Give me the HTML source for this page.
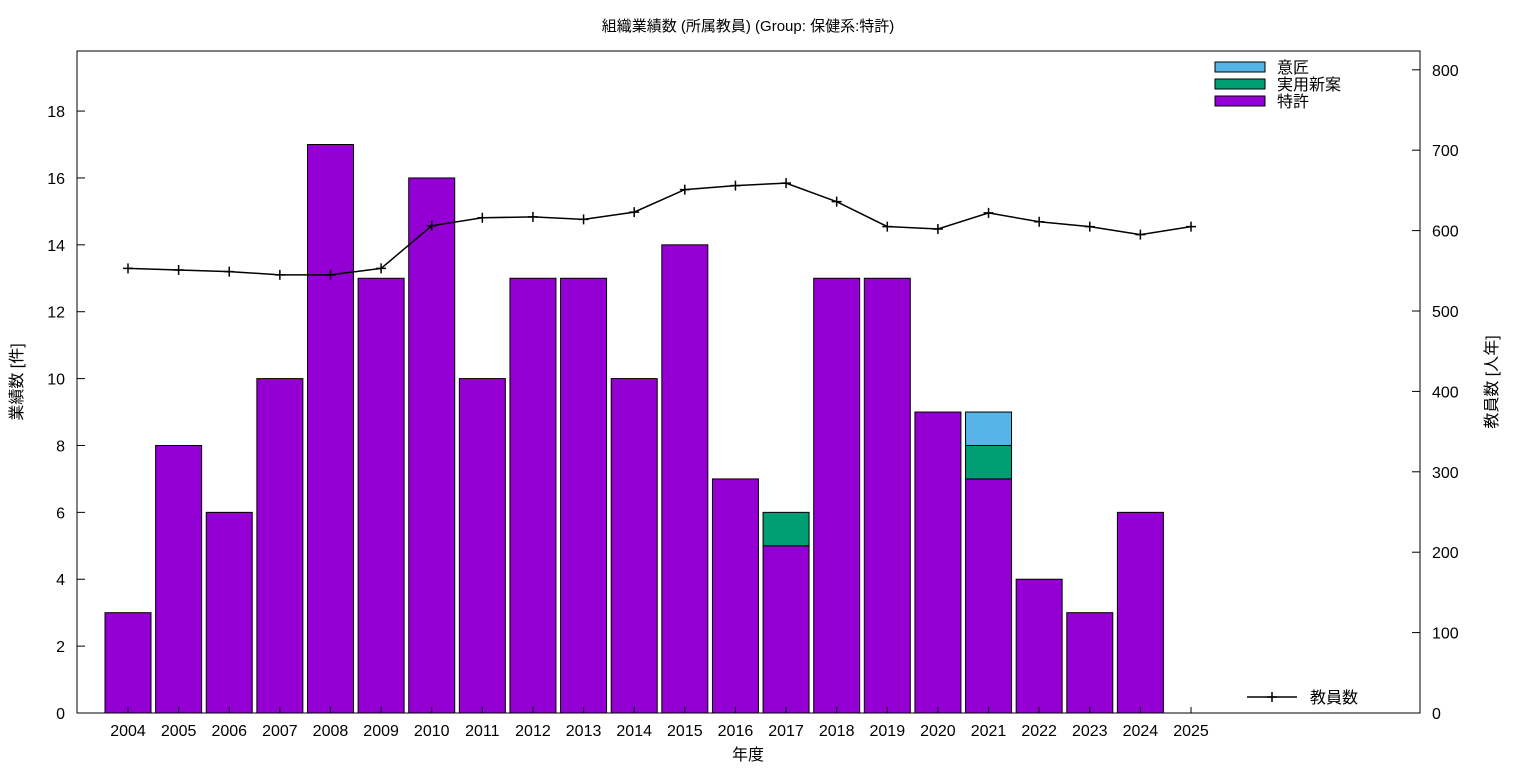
<!DOCTYPE html>
<html><head><meta charset="utf-8"><style>
body{margin:0;background:#fff}
svg text{font-family:"Liberation Sans","Noto Sans CJK JP",sans-serif;fill:#000}
</style></head><body>
<svg id="chart" width="1536" height="768" xmlns="http://www.w3.org/2000/svg"></svg>
<script>
const years=["2004","2005","2006","2007","2008","2009","2010","2011","2012","2013","2014","2015","2016","2017","2018","2019","2020","2021","2022","2023","2024","2025"];
const patents=[3,8,6,10,17,13,16,10,13,13,10,14,7,5,13,13,9,7,4,3,6,0];
const utility=[0,0,0,0,0,0,0,0,0,0,0,0,0,1,0,0,0,1,0,0,0,0];
const designs=[0,0,0,0,0,0,0,0,0,0,0,0,0,0,0,0,0,1,0,0,0,0];
const staff=[553,551,549,545,545,553,606,616,617,614,623,651,656,659,636,605,602,622,611,605,595,605];
const leftTicks=[0,2,4,6,8,10,12,14,16,18];
const rightTicks=[0,100,200,300,400,500,600,700,800];
const NS="http://www.w3.org/2000/svg";
const svg=document.getElementById('chart');
const L=77,R=1420,T=51,B=713;
const x=i=>128+i*50.62;
const yl=v=>B-v*33.44;
const yr=v=>B-v*0.804;
function el(tag,attrs,parent){const e=document.createElementNS(NS,tag);for(const k in attrs)e.setAttribute(k,attrs[k]);(parent||svg).appendChild(e);return e;}
function txt(s,attrs){const e=el('text',attrs);e.textContent=s;return e;}
// bars
const colors=["#9400d3","#009e73","#56b4e9"];
const series=[patents,utility,designs];
years.forEach((yv,i)=>{let base=0;series.forEach((s,k)=>{if(s[i]>0){const r=el('rect',{x:x(i)-23,y:yl(base+s[i]),width:46,height:yl(base)-yl(base+s[i]),fill:colors[k],stroke:'#000','stroke-width':1});

base+=s[i];}});});
// frame
const f=el('rect',{x:L,y:T,width:R-L,height:B-T,fill:'none',stroke:'#000','stroke-width':1});

leftTicks.forEach(v=>{el('line',{x1:L,x2:L+8,y1:yl(v),y2:yl(v),stroke:'#000'});const t=txt(v,{x:L-12,y:yl(v)+6,'text-anchor':'end','font-size':16});});
rightTicks.forEach(v=>{el('line',{x1:R-8,x2:R,y1:yr(v),y2:yr(v),stroke:'#000'});const t=txt(v,{x:R+12,y:yr(v)+6,'font-size':16});});
years.forEach((yv,i)=>{el('line',{x1:x(i),x2:x(i),y1:B,y2:B-6,stroke:'#000'});const t=txt(yv,{x:x(i),y:736,'text-anchor':'middle','font-size':16});});
// line
const pts=staff.map((v,i)=>x(i)+','+yr(v)).join(' ');
const pl=el('polyline',{points:pts,fill:'none',stroke:'#000','stroke-width':1.5});

staff.forEach((v,i)=>{el('path',{d:`M${x(i)-5},${yr(v)}h10M${x(i)},${yr(v)-5}v10`,stroke:'#000','stroke-width':1.5});});
// titles
let t=txt('組織業績数 (所属教員) (Group: 保健系:特許)',{x:748,y:31,'text-anchor':'middle','font-size':15});
t=txt('年度',{x:748,y:760,'text-anchor':'middle','font-size':16});
t=txt('業績数 [件]',{x:0,y:0,'text-anchor':'middle','font-size':16,transform:'translate(22,382) rotate(-90)'});
t=txt('教員数 [人年]',{x:0,y:0,'text-anchor':'middle','font-size':16,transform:'translate(1497,382) rotate(-90)'});
// legend
const lg=[["意匠","#56b4e9",67],["実用新案","#009e73",84],["特許","#9400d3",101]];
lg.forEach(([n,c,y])=>{const r=el('rect',{x:1215,y:y-5,width:50,height:10,fill:c,stroke:'#000'});
const tt=txt(n,{x:1277,y:y+6,'font-size':16});});
el('line',{x1:1247,x2:1297,y1:697,y2:697,stroke:'#000','stroke-width':1.5});
el('path',{d:'M1272,692v10M1267,697h10',stroke:'#000','stroke-width':1.5});
t=txt('教員数',{x:1310,y:703,'font-size':16});
</script>
</body></html>
